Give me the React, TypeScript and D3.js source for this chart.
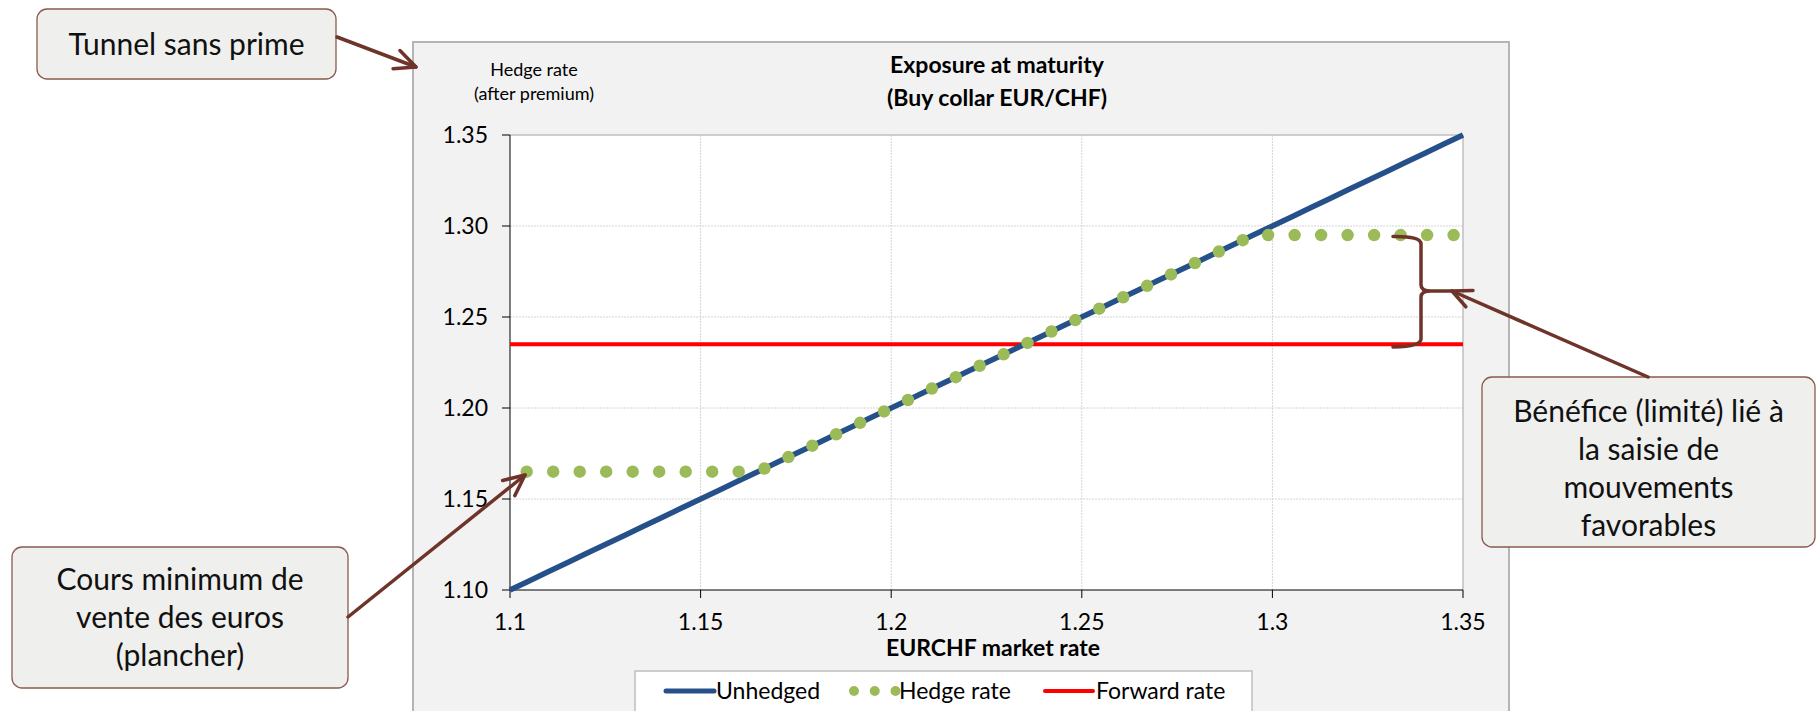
import React, { useEffect } from "react";
import * as d3 from "d3";

// EUR/CHF market rate at maturity (x) and the resulting rates
const marketRates = [
  1.100, 1.105, 1.110, 1.115, 1.120, 1.125, 1.130, 1.135, 1.140, 1.145,
  1.150, 1.155, 1.160, 1.165, 1.170, 1.175, 1.180, 1.185, 1.190, 1.195,
  1.200, 1.205, 1.210, 1.215, 1.220, 1.225, 1.230, 1.235, 1.240, 1.245,
  1.250, 1.255, 1.260, 1.265, 1.270, 1.275, 1.280, 1.285, 1.290, 1.295,
  1.300, 1.305, 1.310, 1.315, 1.320, 1.325, 1.330, 1.335, 1.340, 1.345,
  1.350,
];

const unhedged = [
  1.100, 1.105, 1.110, 1.115, 1.120, 1.125, 1.130, 1.135, 1.140, 1.145,
  1.150, 1.155, 1.160, 1.165, 1.170, 1.175, 1.180, 1.185, 1.190, 1.195,
  1.200, 1.205, 1.210, 1.215, 1.220, 1.225, 1.230, 1.235, 1.240, 1.245,
  1.250, 1.255, 1.260, 1.265, 1.270, 1.275, 1.280, 1.285, 1.290, 1.295,
  1.300, 1.305, 1.310, 1.315, 1.320, 1.325, 1.330, 1.335, 1.340, 1.345,
  1.350,
];

// Collar: floor 1.165, cap 1.295
const hedgeRate = [
  1.165, 1.165, 1.165, 1.165, 1.165, 1.165, 1.165, 1.165, 1.165, 1.165,
  1.165, 1.165, 1.165, 1.165, 1.170, 1.175, 1.180, 1.185, 1.190, 1.195,
  1.200, 1.205, 1.210, 1.215, 1.220, 1.225, 1.230, 1.235, 1.240, 1.245,
  1.250, 1.255, 1.260, 1.265, 1.270, 1.275, 1.280, 1.285, 1.290, 1.295,
  1.295, 1.295, 1.295, 1.295, 1.295, 1.295, 1.295, 1.295, 1.295, 1.295,
  1.295,
];

const forwardRate = 1.235;

const xTicks = [1.1, 1.15, 1.2, 1.25, 1.3, 1.35];
const yTicks = [1.1, 1.15, 1.2, 1.25, 1.3, 1.35];

const titleLines = ["Exposure at maturity", "(Buy collar EUR/CHF)"];
const yTitleLines = ["Hedge rate", "(after premium)"];
const xTitle = "EURCHF market rate";
const legendLabels = ["Unhedged", "Hedge rate", "Forward rate"];

const noteTunnel = ["Tunnel sans prime"];
const noteFloor = ["Cours minimum de", "vente des euros", "(plancher)"];
const noteBenefit = ["Bénéfice (limité) lié à", "la saisie de", "mouvements", "favorables"];

const W = 1816;
const H = 711;
const FONT = "Lato, 'Open Sans', 'Noto Sans', sans-serif";

const BLUE = "#26508a";
const GREEN = "#9bbb59";
const RED = "#ff0000";
const BROWN = "#6e3429";

const plot = { left: 510, right: 1463, top: 135, bottom: 590 };

function arrowHead(x0: number, y0: number, x1: number, y1: number, len = 23, spread = 25) {
  const ang = Math.atan2(y0 - y1, x0 - x1);
  const s = (spread * Math.PI) / 180;
  const a = [x1 + len * Math.cos(ang + s), y1 + len * Math.sin(ang + s)];
  const b = [x1 + len * Math.cos(ang - s), y1 + len * Math.sin(ang - s)];
  return `M${a[0]},${a[1]}L${x1},${y1}L${b[0]},${b[1]}`;
}

function Note({ x, y, w, h, lines, size, lead, first }: any) {
  return (
    <g>
      <rect x={x} y={y} width={w} height={h} rx={10} ry={10} fill="#efefee" stroke="#8a5a4e" strokeWidth={1.3} />
      {lines.map((t: string, i: number) => (
        <text key={i} x={x + w / 2} y={first + i * lead} textAnchor="middle" fontSize={size} fontFamily={FONT} fill="#111">
          {t}
        </text>
      ))}
    </g>
  );
}

export default function App() {
  useEffect(() => {
    document.body.style.margin = "0";
    document.body.style.overflow = "hidden";
  }, []);

  const x = d3.scaleLinear().domain([1.1, 1.35]).range([plot.left, plot.right]);
  const y = d3.scaleLinear().domain([1.1, 1.35]).range([plot.bottom, plot.top]);

  const line = d3
    .line<number>()
    .x((_, i) => x(marketRates[i]))
    .y((d) => y(d));

  const unhedgedPath = line(unhedged) || "";
  const hedgePath = line(hedgeRate) || "";

  const fy = y(forwardRate);
  const FS = 23;

  return (
    <svg width={W} height={H} style={{ position: "absolute", left: 0, top: 0, display: "block" }} fontFamily={FONT}>
      <rect x={0} y={0} width={W} height={H} fill="#ffffff" />

      {/* chart area */}
      <rect x={413} y={42} width={1096} height={740} fill="#f2f2f2" stroke="#b5b5b5" strokeWidth={2} />

      {/* plot area */}
      <rect x={plot.left} y={plot.top} width={plot.right - plot.left} height={plot.bottom - plot.top} fill="#ffffff" />

      {/* gridlines */}
      {yTicks.slice(1, -1).map((t) => (
        <line key={"gy" + t} x1={plot.left} x2={plot.right} y1={y(t)} y2={y(t)} stroke="#d4d4d4" strokeWidth={1} strokeDasharray="2 1" />
      ))}
      {xTicks.slice(1, -1).map((t) => (
        <line key={"gx" + t} x1={x(t)} x2={x(t)} y1={plot.top} y2={plot.bottom} stroke="#d4d4d4" strokeWidth={1} strokeDasharray="2 1" />
      ))}
      <line x1={plot.left} x2={plot.right} y1={plot.top} y2={plot.top} stroke="#bfbfbf" strokeWidth={1.5} />
      <line x1={plot.right} x2={plot.right} y1={plot.top} y2={plot.bottom} stroke="#bfbfbf" strokeWidth={1.5} />

      {/* axes */}
      <line x1={plot.left} x2={plot.left} y1={plot.top} y2={plot.bottom} stroke="#000" strokeWidth={1} />
      <line x1={plot.left} x2={plot.right} y1={plot.bottom} y2={plot.bottom} stroke="#000" strokeWidth={1} />
      {yTicks.map((t) => (
        <g key={"ty" + t}>
          <line x1={plot.left - 8} x2={plot.left} y1={y(t)} y2={y(t)} stroke="#000" strokeWidth={1} />
          <text x={488} y={y(t)} dy="0.36em" textAnchor="end" fontSize={FS} fill="#000">
            {d3.format(".2f")(t)}
          </text>
        </g>
      ))}
      {xTicks.map((t) => (
        <g key={"tx" + t}>
          <line x1={x(t)} x2={x(t)} y1={plot.bottom} y2={plot.bottom + 8} stroke="#000" strokeWidth={1} />
          <text x={x(t)} y={630} textAnchor="middle" fontSize={FS} fill="#000">
            {String(+t.toFixed(2))}
          </text>
        </g>
      ))}

      {/* series */}
      <line x1={plot.left} x2={plot.right} y1={fy} y2={fy} stroke={RED} strokeWidth={4} />
      <path d={unhedgedPath} fill="none" stroke={BLUE} strokeWidth={5.5} />
      <path d={hedgePath} fill="none" stroke={GREEN} strokeWidth={12.5} strokeLinecap="round" strokeDasharray="0 26.5" strokeDashoffset={9.8} />

      {/* titles */}
      {titleLines.map((t, i) => (
        <text key={"t" + i} x={997} y={73 + i * 33} textAnchor="middle" fontSize={FS} fontWeight="bold" fill="#000">
          {t}
        </text>
      ))}
      {yTitleLines.map((t, i) => (
        <text key={"yt" + i} x={534} y={76 + i * 24} textAnchor="middle" fontSize={18} fill="#000">
          {t}
        </text>
      ))}
      <text x={993} y={656} textAnchor="middle" fontSize={FS} fontWeight="bold" fill="#000">
        {xTitle}
      </text>

      {/* legend */}
      <rect x={635} y={671} width={617} height={80} fill="#ffffff" stroke="#bfbfbf" strokeWidth={1.5} />
      <line x1={666} x2={714} y1={691} y2={691} stroke={BLUE} strokeWidth={5} strokeLinecap="round" />
      <text x={716} y={699} fontSize={FS} fill="#000">{legendLabels[0]}</text>
      <line x1={854} x2={896.5} y1={691} y2={691} stroke={GREEN} strokeWidth={10} strokeLinecap="round" strokeDasharray="0 20.75" />
      <text x={899} y={699} fontSize={FS} fill="#000">{legendLabels[1]}</text>
      <line x1={1045} x2={1093} y1={691} y2={691} stroke={RED} strokeWidth={4} strokeLinecap="round" />
      <text x={1096} y={699} fontSize={FS} fill="#000">{legendLabels[2]}</text>

      {/* annotations */}
      <Note x={37} y={9} w={299} h={70} lines={noteTunnel} size={30} lead={38} first={55} />
      <Note x={12} y={547} w={336} h={141} lines={noteFloor} size={30} lead={38} first={590} />
      <Note x={1482} y={377} w={333} h={170} lines={noteBenefit} size={30} lead={38} first={422} />

      <g fill="none" stroke={BROWN} strokeWidth={3.5} strokeLinecap="round" strokeLinejoin="round">
        <path d={`M337,37L416,67`} />
        <path d={arrowHead(337, 37, 416, 67)} />
        <path d={`M348,617L525,475`} />
        <path d={arrowHead(348, 617, 525, 475)} />
        <path d={`M1648,377L1452,291`} />
        <path d={arrowHead(1648, 377, 1452, 291, 21)} />
        <path d="M1393,236.5 Q1421,236 1421,244 L1421,285 Q1421,291 1431,291 L1452,291 M1431,291 Q1421,291 1421,297 L1421,339 Q1421,346.5 1393,347" />
      </g>
    </svg>
  );
}
